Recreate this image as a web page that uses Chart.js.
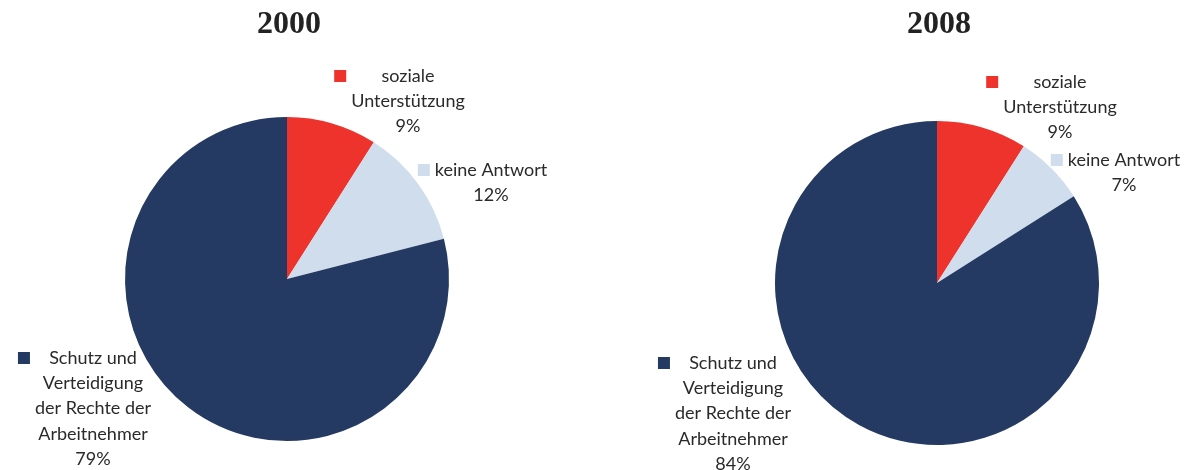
<!DOCTYPE html>
<html>
<head>
<meta charset="utf-8">
<script src="https://cdn.jsdelivr.net/npm/chart.js@4"></script>
<style>
  body { margin: 0; background: #fff; }
  .wrap { width: 1188px; height: 470px; display: flex; }
  .cell { width: 594px; height: 470px; position: relative; }
</style>
</head>
<body>
<div class="wrap">
  <div class="cell"><canvas id="pie2000" width="594" height="470"></canvas></div>
  <div class="cell"><canvas id="pie2008" width="594" height="470"></canvas></div>
</div>
<script>
// Data
const years = ['2000', '2008'];
const categoryLines = [
    ['soziale', 'Unterstützung'],
    ['keine Antwort'],
    ['Schutz und', 'Verteidigung', 'der Rechte der', 'Arbeitnehmer']
];
const values2000 = [9, 12, 79];
const values2008 = [9, 7, 84];

const sliceColors = ['#EE322C', '#D0DDEC', '#243A62'];
const FONT = 'Lato, "Open Sans", sans-serif';

// label block anchors relative to the pie centre (first line centre)
const labelOffsets = {
    '2000': [[121, -203], [204, -109], [-194, 79]],
    '2008': [[123, -201], [187, -123], [-204, 80]]
};

const pieLabels = {
    id: 'pieLabels',
    afterDraw(chart, args, opts) {
        const ctx = chart.ctx;
        const meta = chart.getDatasetMeta(0);
        const arc0 = meta.data[0];
        const cx = arc0.x, cy = arc0.y;
        const values = chart.data.datasets[0].data;

        // year title above the pie
        ctx.save();
        ctx.fillStyle = '#222';
        ctx.font = 'bold 32px "Liberation Serif", serif';
        ctx.textAlign = 'center';
        ctx.textBaseline = 'middle';
        ctx.fillText(opts.year, cx + 2, 25);

        ctx.font = '18px ' + FONT;
        const lineH = 25.3;
        meta.data.forEach((arc, i) => {
            const lines = categoryLines[i].concat([values[i] + '%']);
            const [dx, dy] = opts.offsets[i];
            const bx = cx + dx, by = cy + dy;
            let maxW = 0;
            lines.forEach(l => { maxW = Math.max(maxW, ctx.measureText(l).width); });
            // legend key
            ctx.fillStyle = sliceColors[i];
            ctx.fillRect(bx - maxW / 2 - 17, by - 6, 12, 12);
            ctx.fillStyle = '#2a2a2a';
            lines.forEach((l, k) => ctx.fillText(l, bx, by + k * lineH));
        });
        ctx.restore();
    }
};

function makePie(id, year, values, padding) {
    return new Chart(document.getElementById(id), {
        type: 'pie',
        data: {
            labels: categoryLines.map(l => l.join(' ')),
            datasets: [{
                data: values,
                backgroundColor: sliceColors,
                borderWidth: 0,
                hoverOffset: 0,
                offset: 0
            }]
        },
        options: {
            responsive: false,
            animation: false,
            events: [],
            layout: { padding: padding },
            plugins: {
                legend: { display: false },
                tooltip: { enabled: false },
                title: { display: false },
                pieLabels: { year: year, offsets: labelOffsets[year] }
            }
        },
        plugins: [pieLabels]
    });
}

makePie('pie2000', years[0], values2000, { left: 125, right: 145, top: 117, bottom: 29 });
makePie('pie2008', years[1], values2008, { left: 181, right: 89, top: 121, bottom: 25 });
</script>
</body>
</html>
